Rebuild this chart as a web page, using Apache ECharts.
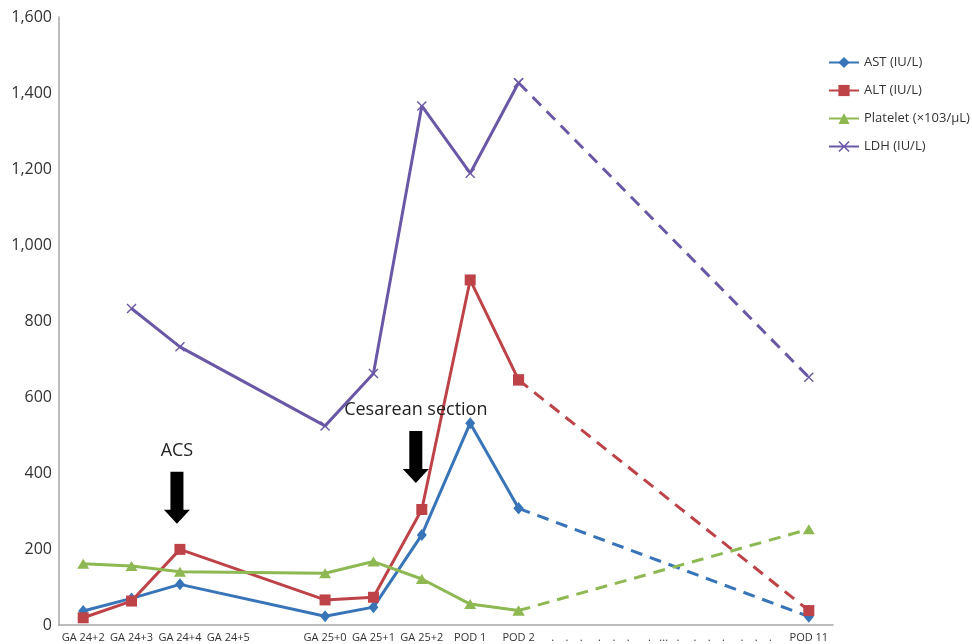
<!DOCTYPE html>
<html>
<head>
<meta charset="utf-8">
<script src="https://cdn.jsdelivr.net/npm/echarts@6/dist/echarts.min.js"></script>
<style>
html,body{margin:0;padding:0;background:#fff;}
#chart{width:972px;height:644px;}
</style>
</head>
<body>
<div id="chart"></div>
<script>
// ---- data ----
var categories = ['GA 24+2','GA 24+3','GA 24+4','GA 24+5',' ','GA 25+0','GA 25+1','GA 25+2','POD 1','POD 2',
  '.    .    .','.    .    . ','.   ...   .','.    .    .  ','.    .    .   ','POD 11'];
var astValues      = [37, 70, 107, null, null, 23, 47, 237, 531, 307, null, null, null, null, null, 22];
var altValues      = [19, 63, 199, null, null, 66, 73, 304, 908, 645, null, null, null, null, null, 38];
var plateletValues = [161, 155, 140, null, null, 136, 167, 121, 55, 38, null, null, null, null, null, 252];
var ldhValues      = [null, 833, 732, null, null, 524, 662, 1366, 1189, 1427, null, null, null, null, null, 652];
var yTicks = {min: 0, max: 1600, interval: 200};
var dashStartIndex = 9; // POD 2: from here on the line is dashed
var annotations = [
  {name: 'ACS', at: 'GA 24+4', value: 335},
  {name: 'Cesarean section', at: 'GA 25+2', value: 442}
];

// ---- helpers ----
function solidPart(arr){ return arr.map(function(v,i){ return i <= dashStartIndex ? v : null; }); }
function dashedPart(arr){ return arr.map(function(v,i){ return i >= dashStartIndex ? v : null; }); }

var xPath = 'path://M0,1 L1,0 L5,4 L9,0 L10,1 L6,5 L10,9 L9,10 L5,6 L1,10 L0,9 L4,5 Z';
var arrowPath = 'path://M6.5,0 L19.5,0 L19.5,38 L26,38 L13,52 L0,38 L6.5,38 Z';

var defs = [
  {name: 'AST (IU/L)', data: astValues, color: '#3874B8', symbol: 'diamond', size: [10, 12]},
  {name: 'ALT (IU/L)', data: altValues, color: '#BE4348', symbol: 'rect', size: 11},
  {name: 'Platelet (×103/μL)', data: plateletValues, color: '#8DB852', symbol: 'triangle', size: [12, 10]},
  {name: 'LDH (IU/L)', data: ldhValues, color: '#6A58A6', symbol: xPath, size: 10}
];

var series = [];
defs.forEach(function(d, k){
  var s = {
    name: d.name, type: 'line', data: solidPart(d.data), connectNulls: true,
    symbol: d.symbol, symbolSize: d.size, showAllSymbol: true,
    itemStyle: {color: d.color},
    lineStyle: {color: d.color, width: 3},
    z: 3 + k
  };
  if (k === 0) {
    s.markPoint = {
      symbol: arrowPath, symbolSize: [26, 52],
      itemStyle: {color: '#000'},
      label: {show: true, position: 'top', distance: 12, formatter: '{b}',
              color: '#222', fontSize: 18, fontFamily: 'Open Sans'},
      data: annotations.map(function(a, i){
        return {name: a.name, coord: [a.at, a.value], symbolOffset: [i === 0 ? -3 : -6, 0]};
      })
    };
  }
  series.push(s);
  series.push({
    name: d.name + ' (cont.)', type: 'line', data: dashedPart(d.data), connectNulls: true,
    symbol: d.symbol, symbolSize: d.size, showAllSymbol: true,
    itemStyle: {color: d.color},
    lineStyle: {color: d.color, width: 3, type: [12, 8]},
    z: 3 + k
  });
});

var chart = echarts.init(document.getElementById('chart'), null, {renderer: 'canvas'});
chart.setOption({
  animation: false,
  backgroundColor: '#fff',
  grid: {left: 59, right: 139, top: 17, bottom: 19, containLabel: false, outerBoundsMode: 'none'},
  legend: {
    data: defs.map(function(d){ return d.name; }),
    orient: 'vertical', left: 823, top: 51,
    itemWidth: 30, itemHeight: 14, itemGap: 15,
    textStyle: {fontSize: 13, color: '#333', fontFamily: 'Open Sans'}
  },
  xAxis: {
    type: 'category', data: categories, boundaryGap: true,
    axisLine: {show: true, lineStyle: {color: '#a6a6a6', width: 1.5}},
    axisTick: {show: false},
    axisLabel: {interval: 0, margin: 7, fontSize: 11, color: '#333', fontFamily: 'Open Sans'},
    splitLine: {show: false}
  },
  yAxis: {
    type: 'value', min: yTicks.min, max: yTicks.max, interval: yTicks.interval,
    axisLine: {show: true, lineStyle: {color: '#a6a6a6', width: 1.5}},
    axisTick: {show: false},
    splitLine: {show: false},
    axisLabel: {margin: 7, fontSize: 16, color: '#333', fontFamily: 'Open Sans',
                formatter: function(v){ return v.toLocaleString('en-US'); }}
  },
  series: series
});
</script>
</body>
</html>
